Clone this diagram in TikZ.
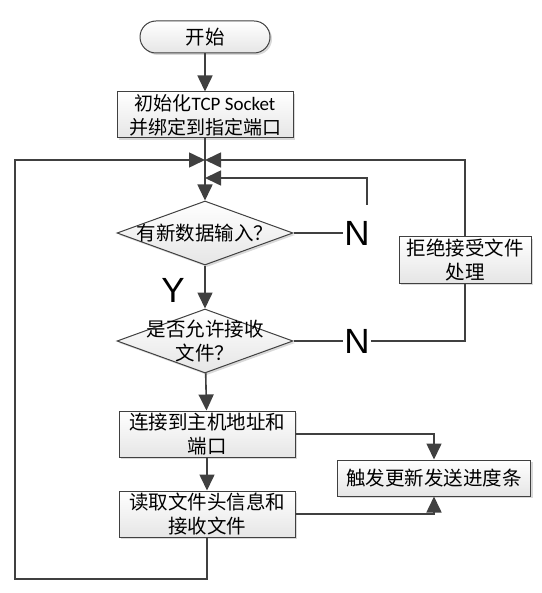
\documentclass[tikz,border=0pt]{standalone}
\usepackage{fontspec}
\setmainfont{Liberation Sans}
\newfontfamily\cjk{Noto Sans CJK SC}
\newfontfamily\calfont{Carlito}
\usetikzlibrary{arrows.meta}
\usetikzlibrary{shapes.geometric}
\usetikzlibrary{shadows}
\definecolor{linegray}{HTML}{404040}

\tikzset{
  line/.style={draw=linegray, line width=1.6pt},
  flow/.style={line, -{Triangle[length=16pt,width=15pt]}},
  boxshade/.style={draw=linegray, line width=1pt, top color=white, bottom color=gray!20,
    drop shadow={shadow xshift=2pt, shadow yshift=-2pt, opacity=0.3}},
  cjktext/.style={font=\cjk\fontsize{19.5}{24}\selectfont, text=black},
  block/.style={boxshade, cjktext, rectangle, align=center, inner sep=0pt,
    minimum width=176pt, minimum height=46pt},
  terminal/.style={boxshade, cjktext, rectangle, rounded corners=16pt, inner sep=0pt,
    minimum width=130pt, minimum height=32pt},
  decision/.style={boxshade, diamond, inner sep=0pt, minimum width=176pt, minimum height=64pt},
  bigletter/.style={font=\fontsize{35}{35}\selectfont, text=black, inner sep=1pt}
}

\begin{document}
\begin{tikzpicture}[x=1pt,y=-1pt,line cap=butt,line join=miter]
\useasboundingbox (0,0) rectangle (541,593);

% Hauptspalte
\node[terminal] (start) at (205,37) {开始};
\node[block, font=\cjk\fontsize{19}{24}\selectfont] (init) at (205,115) {初始化{\calfont TCP Socket}\\并绑定到指定端口};
\node[decision] (dec1) at (205,233) {};
\node[cjktext, align=center] at (dec1.center) {有新数据输入？};
\node[decision] (dec2) at (205,341) {};
\node[cjktext, align=center] at (dec2.center) {是否允许接收\\文件？};
\node[block] (conn) at (207,434) {连接到主机地址和\\端口};
\node[block] (read) at (207,514) {读取文件头信息和\\接收文件};

% rechte Seite
\node[block, minimum width=132pt] (reject) at (465,260) {拒绝接受文件\\处理};
\node[block, minimum width=193pt, minimum height=36pt] (prog) at (434,478) {触发更新发送进度条};

% Beschriftungen
\node[bigletter] (N1) at (357,233) {N};
\node[bigletter] (N2) at (357,341) {N};
\node[bigletter] (Y) at (173,290) {Y};

% Hilfspunkte
\coordinate (junc) at (205,160);
\coordinate (junc2) at (205,178);
\coordinate (n1top) at (367,205);
\coordinate (loopL) at (15,579);

% Verbindungen
\draw[flow] (start) -- (init);
\draw[flow] (init) -- (dec1);
\draw[flow] (dec1) -- (dec2);
\draw[flow] (dec2) -- (conn);
\draw[flow] (conn) -- (read);

\draw[line] (dec1.east) -- (N1.west);
\draw[flow] (n1top) |- (junc2);
\draw[line] (dec2.east) -- (N2.west);
\draw[line] (N2.east) -| (reject.south);
\draw[flow] (reject.north) |- (junc);
\draw[flow] (read.south) |- (loopL) |- (junc);

\draw[flow] (conn.east) -| (prog.north);
\draw[flow] (read.east) -| (prog.south);
\end{tikzpicture}
\end{document}
